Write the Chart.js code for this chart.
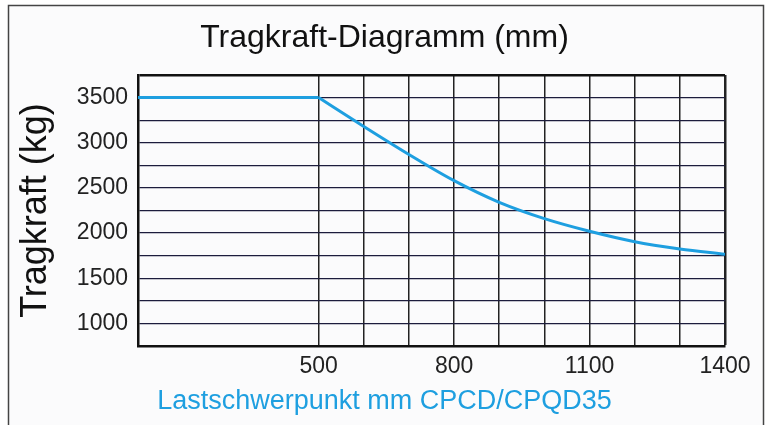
<!DOCTYPE html>
<html>
<head>
<meta charset="utf-8">
<script src="https://cdn.jsdelivr.net/npm/chart.js@4.4.1/dist/chart.umd.min.js"></script>
<style>
  html, body { margin: 0; padding: 0; background: #fff; }
  #wrap { width: 769px; height: 425px; }
</style>
</head>
<body>
<div id="wrap"><canvas id="chart" width="769" height="425"></canvas></div>
<script>
// load centre (mm) vs. capacity (kg)
const loadCenters = [100, 500, 600, 700, 800, 900, 1000, 1100, 1200, 1300, 1400];
const capacities = [3500, 3500, 3180, 2870, 2580, 2340, 2160, 2020, 1905, 1825, 1765];
const xTickLabels = [500, 800, 1100, 1400];
const yTickLabels = [1000, 1500, 2000, 2500, 3000, 3500];

const FONT = "'Liberation Sans', Arial, sans-serif";
const BLUE = "#1e9fe0";

const points = loadCenters.map((x, i) => ({ x: x, y: capacities[i] }));
// flat part up to 500 mm, curved part after it
const flatPart = points.slice(0, 2);
const curvePart = points.slice(1);

// page frame behind the chart
const framePlugin = {
  id: "frame",
  beforeDraw(chart) {
    const c = chart.ctx;
    c.save();
    c.fillStyle = "#fbfbfc";
    c.fillRect(8, 5, 755, 430);
    c.strokeStyle = "#444";
    c.lineWidth = 1.5;
    c.strokeRect(8.5, 5.5, 755, 440);
    c.restore();
  }
};

const ctx = document.getElementById("chart");

new Chart(ctx, {
  type: "line",
  data: {
    datasets: [
      {
        data: flatPart,
        borderColor: BLUE,
        borderWidth: 3,
        pointRadius: 0,
        tension: 0,
      },
      {
        data: curvePart,
        borderColor: BLUE,
        borderWidth: 3,
        pointRadius: 0,
        cubicInterpolationMode: "monotone",
      },
    ],
  },
  options: {
    responsive: false,
    animation: false,
    layout: { padding: 0 },
    plugins: {
      legend: { display: false },
      tooltip: { enabled: false },
      title: {
        display: true,
        text: "Tragkraft-Diagramm (mm)",
        color: "#111",
        font: { family: FONT, size: 32, weight: "normal" },
        padding: { top: 19, bottom: 17.6 },
      },
      subtitle: {
        display: true,
        position: "bottom",
        text: "Lastschwerpunkt mm CPCD/CPQD35",
        color: BLUE,
        font: { family: FONT, size: 27, weight: "normal" },
        padding: { top: 0, bottom: 7.6 },
      },
    },
    scales: {
      x: {
        type: "linear",
        min: 100,
        max: 1400,
        afterFit: (s) => { s.height = 39; },
        ticks: {
          stepSize: 100,
          autoSkip: false,
          maxRotation: 0,
          padding: 7,
          color: "#222",
          font: { family: FONT, size: 23 },
          callback: (v) => (xTickLabels.includes(v) ? String(v) : ""),
        },
        grid: {
          drawTicks: false,
          color: (c) => (c.tick && c.tick.value < 500 ? "rgba(0,0,0,0)" : "#222"),
          lineWidth: (c) => (c.tick && c.tick.value === 1400 ? 2.5 : 1.5),
        },
        border: { color: "#111", width: 2.5 },
      },
      y: {
        min: 750,
        max: 3750,
        afterFit: (s) => { s.width = 138; },
        title: {
          display: true,
          text: "Tragkraft (kg)",
          color: "#111",
          font: { family: FONT, size: 36, weight: "normal" },
          padding: { top: 14, bottom: 0 },
        },
        ticks: {
          stepSize: 250,
          autoSkip: false,
          padding: 10,
          color: "#222",
          font: { family: FONT, size: 23 },
          callback: (v) => (yTickLabels.includes(v) ? String(v) : ""),
        },
        grid: {
          drawTicks: false,
          color: (c) => (c.tick && c.tick.value === 3750 ? "#111" : "#1c1c3c"),
          lineWidth: (c) => (c.tick && c.tick.value === 3750 ? 2.5 : 1.3),
        },
        border: { color: "#111", width: 2.5 },
      },
      // empty right axis, only keeps room on the right so titles centre on the page
      yRight: {
        position: "right",
        min: 750,
        max: 3750,
        afterFit: (s) => { s.width = 44; },
        ticks: { display: false },
        grid: { display: false },
        border: { display: false },
      },
    },
  },
  plugins: [framePlugin],
});
</script>
</body>
</html>
